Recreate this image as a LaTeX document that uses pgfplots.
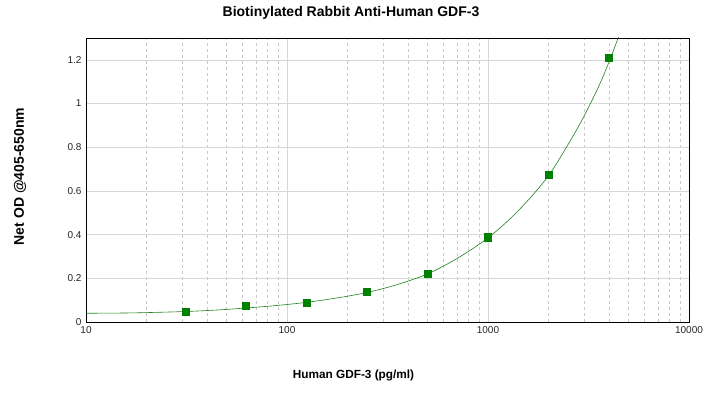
\documentclass[border=0pt]{standalone}
\usepackage{fontspec}
\setmainfont{Liberation Sans}
\usepackage{pgfplots}
\pgfplotsset{compat=1.18}
\definecolor{ptgreen}{RGB}{0,128,0}
\definecolor{linegreen}{RGB}{30,130,30}
\definecolor{gridmaj}{RGB}{215,215,215}
\definecolor{gridmin}{RGB}{200,200,200}
\begin{document}
\begin{tikzpicture}[x=1pt,y=1pt]
\useasboundingbox (0,0) rectangle (707,398);
\begin{axis}[
  at={(86pt,76pt)}, anchor=south west,
  width=603pt, height=284pt, scale only axis,
  xmode=log, xmin=10, xmax=10000, ymin=0, ymax=1.3,
  xtick={10,100,1000,10000}, xticklabels={10,100,1000,10000},
  ytick={0,0.2,0.4,0.6,0.8,1,1.2},
  yticklabel style={/pgf/number format/fixed},
  /pgf/number format/assume math mode=true,
  tick label style={font=\fontsize{10}{12}\selectfont, text=black!85},
  xticklabel style={yshift=-1pt},
  yticklabel style={xshift=-1pt},
  major tick length=0pt, minor tick length=0pt,
  xmajorgrids, xminorgrids, ymajorgrids,
  major grid style={gridmaj, solid, line width=0.6pt},
  minor grid style={gridmin, dashed, line width=0.5pt},
  axis line style={black, line width=0.9pt},
  every axis title shift=0pt,
  title={Biotinylated Rabbit Anti-Human GDF-3},
  title style={at={(axis description cs:0.4395,1.088)}, anchor=center, yshift=0pt, font=\bfseries\fontsize{14}{16}\selectfont},
  xlabel={Human GDF-3 (pg/ml)},
  xlabel style={at={(axis description cs:0.4436,-0.19)}, anchor=center, font=\bfseries\fontsize{11.8}{14}\selectfont},
  ylabel={Net OD @405-650nm},
  ylabel style={at={(axis description cs:-0.1095,0.512)}, anchor=center, rotate=0, font=\bfseries\fontsize{14}{16}\selectfont},
  clip=true,
]
\addplot[linegreen, line width=0.6pt, smooth, tension=0.5] coordinates {
(10,0.040) (15,0.041) (20,0.043) (31.25,0.048) (45,0.055) (62.5,0.064)
(90,0.076) (125,0.090) (180,0.111) (250,0.135) (350,0.170) (500,0.220)
(700,0.290) (1000,0.385) (1400,0.505) (2000,0.670) (2800,0.890)
(3500,1.065) (4000,1.190) (4500,1.315)
};
\addplot[only marks, mark=square*, mark size=3.6pt, mark options={fill=ptgreen, draw=ptgreen}] coordinates {
(31.25,0.046) (62.5,0.073) (125,0.087) (250,0.137) (500,0.220) (1000,0.388) (2000,0.673) (4000,1.208)
};
\end{axis}
\end{tikzpicture}
\end{document}
